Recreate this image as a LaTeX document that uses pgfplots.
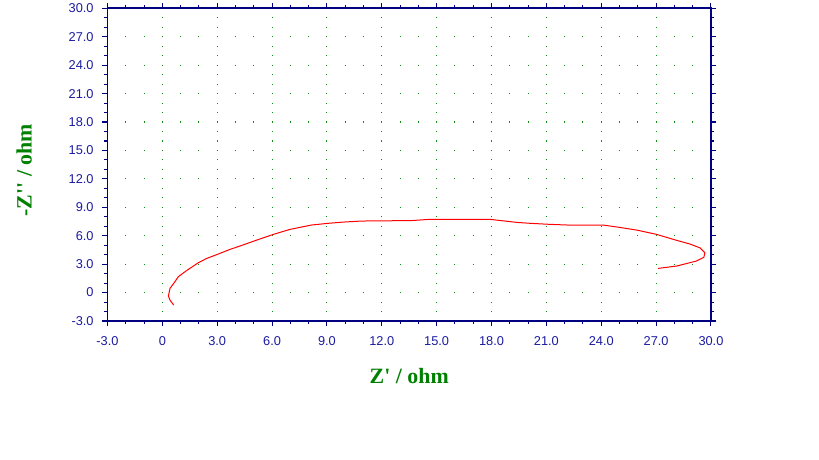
\documentclass[border=0pt]{standalone}
\usepackage{fontspec}
\setmainfont{Liberation Sans}
\newfontfamily\labelfont{Liberation Serif}
\usepackage{pgfplots}
\pgfplotsset{compat=1.18}
\definecolor{axisblue}{HTML}{000080}
\definecolor{ticktext}{HTML}{1A1AA0}
\definecolor{labelgreen}{HTML}{008000}
\definecolor{gridgreen}{HTML}{109010}

\begin{document}
\begin{tikzpicture}
\path[use as bounding box] (-80.625pt,-104.25pt) rectangle (533.625pt,240.75pt);
\begin{axis}[
    at={(0,0)}, anchor=south west,
    scale only axis,
    width=452.6pt, height=234.5pt,
    xmin=-3, xmax=30, ymin=-3, ymax=30,
    xtick={-3,0,...,30}, ytick={-3,0,...,30},
    xticklabels={-3.0,0,3.0,6.0,9.0,12.0,15.0,18.0,21.0,24.0,27.0,30.0},
    yticklabels={-3.0,0,3.0,6.0,9.0,12.0,15.0,18.0,21.0,24.0,27.0,30.0},
    minor x tick num=2, minor y tick num=2,
    tick align=outside,
    major tick length=3.9pt, minor tick length=2.3pt,
    axis line style={axisblue, line width=1.4pt},
    every tick/.style={axisblue, line width=0.8pt},
    tick label style={font=\fontsize{9.6pt}{11pt}\selectfont, text=ticktext},
    x tick label style={yshift=-4.5pt},
    y tick label style={xshift=-3pt},
    grid=major,
    major x grid style={gridgreen, line width=0.8pt, dash pattern=on 0.8pt off 6.306pt, dash phase=0.4pt},
    major y grid style={gridgreen, line width=0.8pt, dash pattern=on 0.8pt off 12.915pt, dash phase=0.4pt},
    xlabel={Z' / ohm},
    ylabel={-Z'' / ohm},
    label style={font=\labelfont\bfseries\fontsize{16.4pt}{18pt}\selectfont, text=labelgreen},
    x label style={at={(axis description cs:0.5,-0.199)}, anchor=base},
    y label style={at={(axis description cs:-0.1256,0.482)}, anchor=base, rotate=0},
]
\addplot[color=red, line width=0.75pt] coordinates {
  (0.62,-1.32) (0.42,-0.80) (0.33,-0.36) (0.42,0.45) (0.69,1.15) (0.87,1.67)
  (1.24,2.20) (1.51,2.56) (1.97,3.15) (2.42,3.60) (2.97,4.00) (3.70,4.56)
  (4.24,4.91) (5.16,5.54) (6.07,6.14) (6.98,6.67) (8.16,7.13) (9.07,7.31)
  (9.89,7.44) (10.90,7.55) (13.63,7.60) (14.63,7.73) (17.91,7.73) (18.73,7.55)
  (19.37,7.41) (20.10,7.31) (21.19,7.20) (22.29,7.12) (24.10,7.13) (25.00,6.88)
  (25.93,6.60) (27.03,6.14) (27.93,5.62) (28.85,5.12) (29.39,4.73) (29.67,4.20)
  (29.61,3.72) (29.21,3.33) (28.12,2.80) (27.10,2.55)
};
\end{axis}
\end{tikzpicture}
\end{document}
